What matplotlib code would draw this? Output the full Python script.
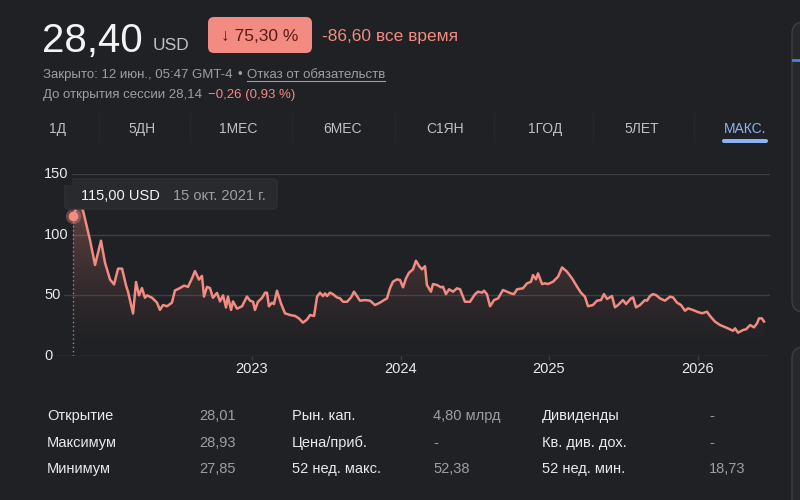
import numpy as np
import matplotlib
matplotlib.use("Agg")
import matplotlib.pyplot as plt
from matplotlib import font_manager
from matplotlib.patches import FancyBboxPatch
from matplotlib.colors import to_rgb

# цена акции (дробный год -> USD)
years = [2021.795, 2021.828, 2021.862, 2021.909, 2021.943, 2021.983, 2022.010, 2022.044,
         2022.071, 2022.098, 2022.125, 2022.152, 2022.165, 2022.199, 2022.219, 2022.239,
         2022.259, 2022.279, 2022.293, 2022.327, 2022.360, 2022.380, 2022.401, 2022.428,
         2022.461, 2022.481, 2022.515, 2022.542, 2022.569, 2022.596, 2022.616, 2022.643,
         2022.663, 2022.677, 2022.697, 2022.717, 2022.737, 2022.764, 2022.785, 2022.805,
         2022.825, 2022.838, 2022.859, 2022.872, 2022.899, 2022.933, 2022.966, 2022.987,
         2023.007, 2023.020, 2023.040, 2023.067, 2023.088, 2023.101, 2023.114, 2023.135,
         2023.148, 2023.168, 2023.195, 2023.222, 2023.256, 2023.290, 2023.316, 2023.343,
         2023.370, 2023.391, 2023.418, 2023.438, 2023.458, 2023.478, 2023.492, 2023.505,
         2023.525, 2023.545, 2023.572, 2023.593, 2023.613, 2023.640, 2023.667, 2023.687,
         2023.707, 2023.727, 2023.761, 2023.795, 2023.828, 2023.862, 2023.889, 2023.909,
         2023.929, 2023.949, 2023.976, 2023.997, 2024.017, 2024.037, 2024.057, 2024.084,
         2024.104, 2024.125, 2024.145, 2024.165, 2024.178, 2024.205, 2024.219, 2024.246,
         2024.273, 2024.286, 2024.306, 2024.327, 2024.354, 2024.380, 2024.401, 2024.434,
         2024.468, 2024.502, 2024.522, 2024.549, 2024.562, 2024.582, 2024.603, 2024.630,
         2024.657, 2024.690, 2024.717, 2024.744, 2024.764, 2024.785, 2024.825, 2024.852,
         2024.879, 2024.892, 2024.912, 2024.926, 2024.953, 2024.973, 2024.993, 2025.027,
         2025.061, 2025.088, 2025.121, 2025.155, 2025.189, 2025.215, 2025.242, 2025.263,
         2025.296, 2025.323, 2025.350, 2025.370, 2025.391, 2025.424, 2025.444, 2025.465,
         2025.498, 2025.519, 2025.552, 2025.566, 2025.586, 2025.613, 2025.646, 2025.660,
         2025.680, 2025.700, 2025.721, 2025.747, 2025.781, 2025.815, 2025.835, 2025.862,
         2025.889, 2025.916, 2025.936, 2025.970, 2025.997, 2026.030, 2026.064, 2026.084,
         2026.118, 2026.152, 2026.178, 2026.205, 2026.239, 2026.253, 2026.273, 2026.306,
         2026.327, 2026.354, 2026.380, 2026.401, 2026.414, 2026.434, 2026.448]
prices = [115.0, 126.0, 120.0, 95.6, 75.0, 95.0, 77.0, 63.0,
          59.0, 72.0, 72.0, 58.0, 53.0, 35.0, 61.0, 50.0,
          56.0, 48.0, 50.0, 48.0, 44.0, 38.0, 42.0, 41.0,
          44.0, 54.0, 56.0, 58.0, 57.0, 64.0, 70.0, 63.0,
          66.0, 49.0, 57.0, 56.0, 48.0, 52.0, 45.0, 50.0,
          40.0, 49.0, 38.0, 45.0, 39.0, 41.0, 49.0, 45.6,
          44.7, 37.9, 44.7, 47.8, 52.2, 52.2, 41.0, 43.9,
          42.8, 53.8, 43.4, 35.2, 33.8, 33.0, 31.0, 27.5,
          30.0, 33.8, 33.0, 48.9, 52.2, 49.4, 51.6, 49.4,
          52.2, 51.0, 48.3, 47.5, 44.7, 44.7, 48.3, 53.0,
          49.4, 45.6, 46.1, 45.6, 42.0, 44.0, 46.1, 47.5,
          55.8, 61.2, 63.2, 62.6, 56.6, 64.0, 68.6, 71.4,
          78.5, 74.2, 71.4, 74.0, 58.5, 53.0, 59.3, 58.5,
          56.6, 57.1, 51.0, 55.0, 53.0, 55.8, 55.0, 44.7,
          44.7, 51.0, 53.0, 52.2, 53.8, 51.0, 41.0, 46.1,
          47.5, 54.4, 53.0, 51.6, 51.0, 55.0, 55.8, 59.9,
          61.2, 66.7, 63.2, 68.1, 59.3, 59.9, 59.3, 61.2,
          65.4, 73.0, 69.5, 64.0, 57.1, 52.2, 48.9, 41.0,
          42.0, 45.6, 46.1, 51.0, 47.0, 49.4, 40.1, 42.0,
          46.1, 42.8, 47.5, 48.3, 40.1, 42.0, 46.1, 45.6,
          49.4, 51.0, 50.2, 47.5, 45.6, 48.9, 48.3, 44.0,
          42.0, 37.3, 39.3, 37.9, 36.5, 35.2, 36.5, 33.0,
          28.3, 25.5, 24.2, 22.8, 20.8, 22.8, 19.2, 21.4,
          22.0, 25.5, 23.6, 26.9, 31.0, 31.0, 28.4]

year_ticks = [2023, 2024, 2025, 2026]
y_ticks = [0, 50, 100, 150]

tabs = ["1Д", "5ДН", "1МЕС", "6МЕС", "С1ЯН", "1ГОД", "5ЛЕТ", "МАКС."]
stat_labels = [["Открытие", "Максимум", "Минимум"],
               ["Рын. кап.", "Цена/приб.", "52 нед. макс."],
               ["Дивиденды", "Кв. див. дох.", "52 нед. мин."]]
stat_values = [["28,01", "28,93", "27,85"],
               ["4,80 млрд", "-", "52,38"],
               ["-", "-", "18,73"]]

BG = "#202124"
RED = "#f28b82"
GRID = "#3c4043"
TXT = "#e8eaed"
GREY = "#9aa0a6"
BLUE = "#8ab4f8"

names = {f.name for f in font_manager.fontManager.ttflist}
SANS = ["Liberation Sans", "DejaVu Sans"]
if "Liberation Sans Narrow" in names:
    NARROW = ["Liberation Sans Narrow", "DejaVu Sans"]
    nk = 1.2
else:
    NARROW = SANS
    nk = 1.0
plt.rcParams["font.family"] = SANS

fig = plt.figure(figsize=(8, 5), dpi=100, facecolor=BG)

# график
def px2year(x):
    return 2023 + (x - 252) / 148.5

ax = fig.add_axes([40 / 800, (500 - 356) / 500, (770 - 40) / 800, 182 / 500])
ax.set_facecolor("none")
for s in ax.spines.values():
    s.set_visible(False)
for v in y_ticks:
    ax.axhline(v, color=GRID, lw=1, zorder=0)

xmin, xmax = px2year(40), px2year(770)
grad = np.linspace(0, 1, 256) ** 1.5 * 0.42
rgba = np.zeros((256, 1, 4))
rgba[..., :3] = to_rgb(RED)
rgba[:, 0, 3] = grad
im = ax.imshow(rgba, extent=[xmin, xmax, 0, 150], origin="lower", aspect="auto", zorder=1)
poly = ax.fill_between(years, prices, 0, facecolor="none", edgecolor="none")
im.set_clip_path(poly.get_paths()[0], transform=ax.transData)

ax.plot(years, prices, color=RED, lw=1.8, zorder=3, solid_joinstyle="round")
ax.vlines(years[0], 0, prices[0], colors="#8a8d91", linestyles=(0, (1, 2)), lw=1, zorder=2)
ax.plot(years[0], prices[0], "o", ms=11, color=RED, alpha=0.35, mec="none", zorder=4)
ax.plot(years[0], prices[0], "o", ms=7, color=RED, mec="none", zorder=5)

ax.set_xlim(xmin, xmax)
ax.set_ylim(0, 150)
ax.set_yticks([])
ax.set_xticks(year_ticks)
ax.set_xticklabels([str(y) for y in year_ticks])
ax.tick_params(axis="x", length=3, width=1, color=GRID, labelcolor=TXT, labelsize=10.5, pad=1.5)

# интерфейс
ui = fig.add_axes([0, 0, 1, 1], zorder=5)
ui.set_xlim(0, 800)
ui.set_ylim(500, 0)
ui.axis("off")
ui.patch.set_alpha(0)

for v in y_ticks:
    yy = 356 - v * 182 / 150
    ui.text(44, yy, str(v), color=TXT, fontsize=10.5, ha="left", va="center",
            bbox=dict(boxstyle="square,pad=0.25", fc=BG, ec="none"))

# подсказка
ui.add_patch(FancyBboxPatch((65, 179), 212, 30, boxstyle="round,pad=0,rounding_size=4",
                            fc="#292a2d", ec="#2f3034", lw=1))
ui.text(81, 200, "115,00 USD", color="#f1f3f4", fontsize=10.5, weight="medium", va="baseline")
ui.text(173, 200, "15 окт. 2021 г.", color=GREY, fontsize=10.5, va="baseline")

# шапка
ui.text(42, 52, "28,40", color="#f1f3f4", fontsize=29, va="baseline")
ui.text(153, 50, "USD", color="#bdc1c6", fontsize=12.5, va="baseline")
ui.add_patch(FancyBboxPatch((208, 17), 104, 36, boxstyle="round,pad=0,rounding_size=6",
                            fc=RED, ec="none"))
ui.text(260, 41, "↓ 75,30 %", color="#5c1a14", fontsize=12.5, ha="center", va="baseline")
ui.text(322, 41, "-86,60 все время", color=RED, fontsize=12.5, va="baseline")

ui.text(43, 78, "Закрыто: 12 июн., 05:47 GMT-4", color=GREY, fontsize=9.5, va="baseline")
ui.text(240, 78, "•", color=GREY, fontsize=9.5, ha="center", va="baseline")
t = ui.text(247, 78, "Отказ от обязательств", color=GREY, fontsize=9.5, va="baseline")
r = fig.canvas.get_renderer()
bb = t.get_window_extent(renderer=r)
x1 = ui.transData.inverted().transform((bb.x1, bb.y0))[0]
ui.plot([247, x1], [80.5, 80.5], color=GREY, lw=0.8)
ui.text(43, 98, "До открытия сессии 28,14", color=GREY, fontsize=9.5, va="baseline")
ui.text(208, 98, "−0,26 (0,93 %)", color=RED, fontsize=9.5, va="baseline")

# вкладки
tab_x = [57, 142, 238, 343, 445, 545, 642, 745]
for i, (name, x) in enumerate(zip(tabs, tab_x)):
    c = BLUE if i == len(tabs) - 1 else "#bdc1c6"
    ui.text(x, 133, name, color=c, fontsize=10 * nk, ha="center", va="baseline", family=NARROW)
for x in [99, 190, 292, 395, 494, 593, 694]:
    ui.plot([x, x], [113, 141], color="#26272b", lw=1)
ui.add_patch(FancyBboxPatch((722, 139), 46, 4, boxstyle="round,pad=0,rounding_size=2",
                            fc=BLUE, ec="none"))

# показатели
lab_x = [47, 292, 542]
val_x = [199, 433, 709]
row_y = [420, 447, 473]
for c in range(3):
    for rr in range(3):
        ui.text(lab_x[c], row_y[rr], stat_labels[c][rr], color=TXT, fontsize=10.5 * nk,
                va="baseline", family=NARROW)
        ui.text(val_x[c], row_y[rr], stat_values[c][rr], color=GREY, fontsize=10.5 * nk,
                va="baseline", family=NARROW)

# края соседних карточек справа
ui.add_patch(FancyBboxPatch((792, 22), 60, 290, boxstyle="round,pad=0,rounding_size=12",
                            fc="#27282b", ec="#3c4043", lw=1, clip_on=False))
ui.add_patch(FancyBboxPatch((792, 347), 60, 200, boxstyle="round,pad=0,rounding_size=12",
                            fc="#27282b", ec="#3c4043", lw=1, clip_on=False))
ui.plot([793, 800], [60, 60], color="#4f7fd6", lw=2)

fig.savefig("out.png", dpi=100, facecolor=BG)
